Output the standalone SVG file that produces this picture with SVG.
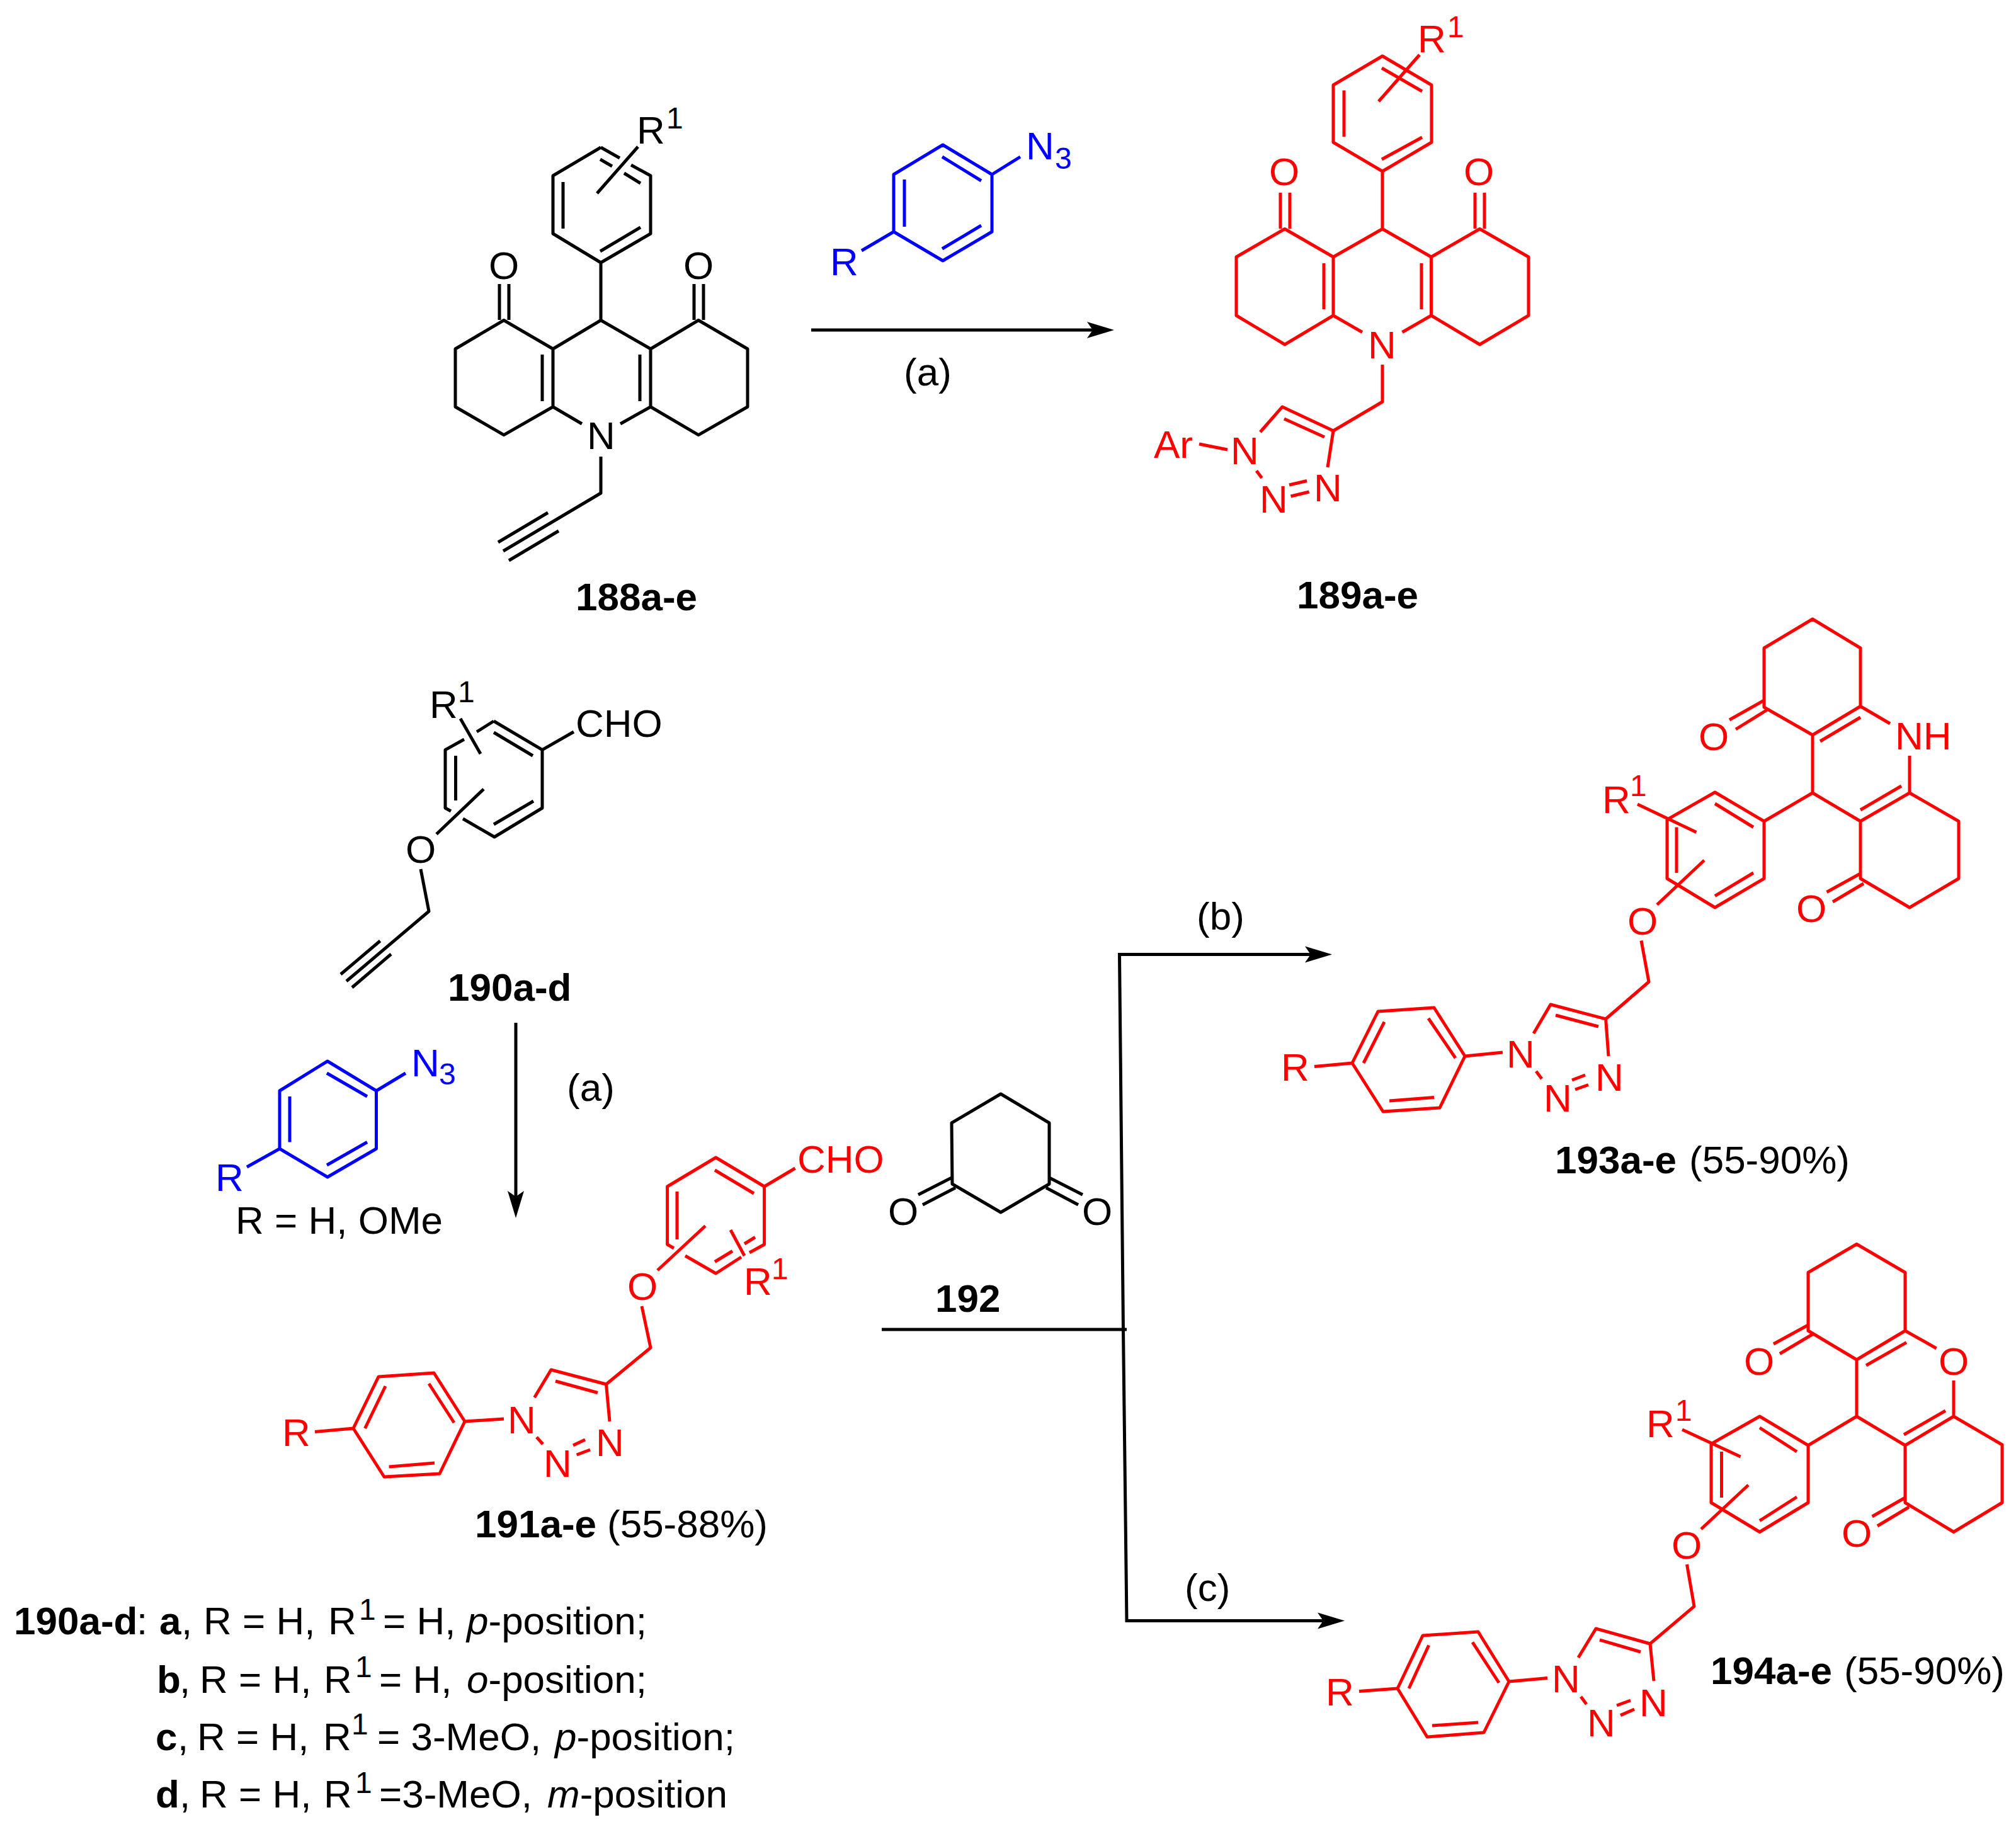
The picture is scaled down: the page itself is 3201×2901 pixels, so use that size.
<svg xmlns="http://www.w3.org/2000/svg" width="3201" height="2901" viewBox="0 0 3201 2901">
<defs>
<style>
text{font-family:"Liberation Sans",Arial,sans-serif;font-size:62px;fill:#000}
.sup{font-size:48px}
.b{font-weight:700}
.i{font-style:italic}
.bond{fill:none;stroke:#000;stroke-width:5;stroke-linejoin:round}
.red .bond{stroke:#f00}.red text{fill:#f00}
.blue .bond{stroke:#00f}.blue text{fill:#00f}
.line{fill:none;stroke:#000;stroke-width:5}
.arrow{marker-end:url(#head)}
</style>
<marker id="head" markerUnits="userSpaceOnUse" viewBox="0 -14 44 28" refX="9" refY="0" markerWidth="44" markerHeight="28" orient="auto" overflow="visible"><path d="M0,-13L43,0L0,13L9,0Z" fill="#000"/></marker>
</defs>
<rect width="3201" height="2901" fill="#fff"/>

<g id="connectors">
<path class="line arrow" d="M1288,524H1735"/>
<path class="line arrow" d="M819,1624V1900"/>
<path class="line" d="M1400,2111H1789"/>
<path class="line arrow" d="M1783.5,2111L1777.5,1515.5H2081"/>
<path class="line arrow" d="M1783.5,2111L1789,2573.5H2101"/>
</g>

<g id="cond-a1"><text x="1435" y="612">(a)</text></g>
<g id="cond-a2"><text x="900" y="1748">(a)</text></g>
<g id="cond-b"><text x="1900" y="1476">(b)</text></g>
<g id="cond-c"><text x="1881" y="2542">(c)</text></g>

<g id="mol-188">
<path class="bond" d="M1013,233L948,307M954,234L984,251M1002,262L1033,279V371L954,417L878,371V279L954,234M894,289V363M953,399L1017,361M953,253L972,264M991,275L1017,291M954,417V508.5L878,554V646L800,690.6L723,646V554L800,508.5L878,554M954,508.5L1033,554V646L1109,690.6L1187,646V554L1109,508.5L1033,554M861,563V637M1016,563V637M793,451V508M808,451V508M1102,451V508M1117,451V508M878,646L924,673M1033,646L985,673M954,725V783L799,875M870,814L791,861M887,843L808,890"/>
<text x="1011" y="228">R</text><text class="sup" x="1058" y="204">1</text>
<text x="776" y="443">O</text><text x="1085" y="443">O</text><text x="932" y="713">N</text>
</g>
<g id="label-188"><text class="b" x="914" y="969">188a-e</text></g>

<g id="mol-azide-top" class="blue">
<path class="bond" d="M1497,230L1575,277V368L1497,414L1419,368V277ZM1496,249L1558,287M1436,285V360M1496,395L1558,358M1575,277L1620,249M1419,368L1368,398"/>
<text x="1629" y="253">N</text><text class="sup" x="1675" y="268">3</text><text x="1318" y="437">R</text>
</g>

<g id="mol-189" class="red">
<path class="bond" d="M2254,87L2189,161M2195,89L2273,135V226L2195,272L2117,226V135ZM2134,143.5V217M2194,253L2258,218M2194,108L2258,145M2195,272V363.5L2117,408V501L2040,547L1963,501V408L2040,363.5L2117,408M2195,363.5L2272.5,408V501L2349.5,547L2427,501V408L2349.5,363.5L2272.5,408M2102,418V491M2257,418V491M2033,306V363M2048,306V363M2342,306V363M2357,306V363M2117,501L2163,527.5M2272.5,501L2226.5,527.5M2195,579V638L2117,684L2036,646L2001,686M2039,665L2103,694M2117,684L2108,742M1995,747.5L2003.6,759M2047,770L2075,763.5M2049.5,788L2078.6,781M1904,705L1949,714"/>
<text x="2251" y="83">R</text><text class="sup" x="2298" y="59">1</text>
<text x="2015" y="294">O</text><text x="2324" y="294">O</text><text x="2172" y="569">N</text>
<text x="1954" y="737">N</text><text x="2000" y="814">N</text><text x="2086" y="796">N</text><text x="1832" y="727">Ar</text>
</g>
<g id="label-189"><text class="b" x="2059" y="966">189a-e</text></g>

<g id="mol-190">
<path class="bond" d="M784,1145L757,1162M737,1174L707,1190.6V1283L716,1288M735,1300L785,1329L861,1283V1190.6L784,1145M784,1163L846,1200M723.5,1200V1271M784,1309L847,1272M731,1141L763,1197M693,1324.5L768,1253M861,1190.6L911,1162M668,1380L681,1447L550,1558M603.6,1494L541,1547M621,1515L559,1568"/>
<text x="682" y="1140">R</text><text class="sup" x="727" y="1115">1</text>
<text x="914" y="1170">CHO</text><text x="644" y="1370">O</text>
</g>
<g id="label-190"><text class="b" x="711" y="1589">190a-d</text></g>

<g id="mol-azide-left" class="blue">
<path class="bond" d="M520,1685L597.5,1732V1824L520,1869L444,1824V1732ZM519,1704L583,1741M460,1741V1813.5M519,1850L583,1813.5M597.5,1732L644,1704M444,1824L392,1853"/>
<text x="653" y="1709">N</text><text class="sup" x="697" y="1722">3</text><text x="342" y="1891">R</text>
</g>
<g id="label-rh"><text x="374" y="1959">R = H, OMe</text></g>

<g id="mol-191" class="red">
<path class="bond" d="M1070,1982L1059.6,1976V1884L1136.6,1838L1213.6,1884V1976L1190,1989M1177,1996L1136.6,2022L1088,1994M1135,1858L1197,1895M1075,1892V1968M1135,2003.5L1163,1986.5M1182,1975L1199,1964.5M1160,1953L1182,1994M1044,2017L1120,1946.5M1213.6,1884L1262.5,1855M1019,2074L1033,2140L962.5,2198L875,2175L848.6,2219M882,2193L949,2211.5M962.5,2198L968,2257M852,2282L862,2293M910,2295L929,2286M915.6,2310L937,2302M738,2257L800,2253M689,2180L601,2186L561,2268L610,2345L698,2340L738,2257ZM681,2197L721,2259M612,2201L579.5,2268M617.6,2329L690,2323M500,2273.5L561,2268"/>
<text x="1266" y="1862">CHO</text><text x="1181" y="2056">R</text><text class="sup" x="1225" y="2031">1</text>
<text x="996" y="2064">O</text><text x="806" y="2276">N</text><text x="863" y="2345">N</text><text x="946" y="2312">N</text><text x="448" y="2296">R</text>
</g>
<g id="label-191"><text x="754" y="2441"><tspan class="b">191a-e</tspan><tspan x="964">(55-88%)</tspan></text></g>

<g id="mol-192">
<path class="bond" d="M1589,1737L1511,1783L1512,1880L1589,1925L1666,1880V1783ZM1511,1870L1458,1897M1517,1886L1465,1913M1666,1870L1719,1897M1661,1886L1712,1913"/>
<text x="1410" y="1945">O</text><text x="1718" y="1945">O</text>
</g>
<g id="label-192"><text class="b" x="1485" y="2083">192</text></g>

<g id="mol-193" class="red">
<path class="bond" d="M2878,983L2801,1029V1123L2878,1167L2954,1121.5V1029ZM2801,1112L2746,1143M2806,1127L2756,1158M2890,1177L2954,1139M2878,1167V1259L2954,1304L3032,1259V1200M2954,1121.5L3001,1149M2954,1286L3019,1248M3032,1259L3110,1304V1395L3032,1441L2954,1395V1304M2954,1387L2900.5,1416.5M2959,1403L2910,1432M2878,1259L2801,1304M2723,1258L2801,1304V1395L2723,1441L2647,1395V1301.4ZM2723,1276L2784,1313.5M2662,1313.5V1386M2723,1422.6L2784,1386M2600,1277L2693.5,1321.5M2631,1436.5L2706,1366M2606,1493.5L2618,1559L2549.6,1618L2462,1595L2435,1641M2470,1612L2538,1630M2549.6,1618L2554,1677M2439,1701L2448,1713M2496,1715L2517,1707M2501,1730L2522,1722.5M2277,1600L2188,1606L2147,1688L2196,1765L2286,1759L2326,1677ZM2326,1677L2386,1671M2268,1617L2311,1680M2198,1622.6L2165,1688M2206,1748L2277,1742.5M2087,1693.5L2147,1688"/>
<text x="2697" y="1191">O</text><text x="3009" y="1190">NH</text><text x="2852" y="1464">O</text>
<text x="2544" y="1291">R</text><text class="sup" x="2588" y="1264">1</text><text x="2584" y="1484">O</text>
<text x="2392" y="1695">N</text><text x="2451" y="1765">N</text><text x="2533" y="1732">N</text><text x="2034" y="1716">R</text>
</g>
<g id="label-193"><text x="2469" y="1863"><tspan class="b">193a-e</tspan><tspan x="2682">(55-90%)</tspan></text></g>

<g id="mol-194" class="red">
<path class="bond" d="M2948,1975.5L2871,2020.5V2113L2948,2159L3025,2113V2020.5ZM2870,2104.5L2816,2134M2879,2118L2826,2149.5M2963,2168L3027,2131.6M2948,2159V2249L3025,2295L3102,2249V2192M3025,2113L3074.6,2141M3023,2278L3089,2240M3102,2249L3179,2294V2386L3102,2432.5L3025,2386V2295M3025,2378L2972.6,2408M3031,2393L2981,2423M2948,2249L2871,2295M2794,2249L2871,2295V2386L2794,2432.5L2717,2386V2292.6ZM2794,2267L2853,2305M2733.5,2305V2378M2794,2414.6L2853,2377M2671,2270L2763.6,2313M2701,2428L2776,2358M2678.5,2484L2690,2550.6L2620,2610L2534,2586L2506,2632M2540,2604L2605,2623M2620,2610L2626,2669M2510,2694L2519,2706M2567,2708L2589,2700M2573,2723.6L2595,2714M2347,2591L2259,2597L2219,2681L2266,2758L2356,2751L2396,2670ZM2396,2670L2457,2664.5M2338,2607.6L2380,2672M2268.6,2612.5L2237,2681M2274,2740L2347,2735M2158,2685.6L2219,2681"/>
<text x="2769" y="2183">O</text><text x="3078" y="2183">O</text><text x="2924" y="2456">O</text>
<text x="2614" y="2282">R</text><text class="sup" x="2660" y="2256">1</text><text x="2654" y="2475">O</text>
<text x="2464" y="2687">N</text><text x="2520" y="2757">N</text><text x="2603" y="2725">N</text><text x="2105" y="2708">R</text>
</g>
<g id="label-194"><text x="2716" y="2674"><tspan class="b">194a-e</tspan><tspan x="2928">(55-90%)</tspan></text></g>

<g id="legend">
<text y="2595"><tspan class="b" x="22">190a-d</tspan><tspan x="217">:</tspan><tspan class="b" x="253">a</tspan><tspan x="288">,</tspan><tspan x="323">R = H,</tspan><tspan x="521">R</tspan><tspan class="sup" x="570" y="2572">1</tspan><tspan x="608" y="2595">= H,</tspan><tspan class="i" x="741">p</tspan><tspan>-position;</tspan></text>
<text y="2688"><tspan class="b" x="249">b</tspan><tspan x="285">,</tspan><tspan x="317">R = H,</tspan><tspan x="514">R</tspan><tspan class="sup" x="564" y="2663">1</tspan><tspan x="602" y="2688">= H,</tspan><tspan class="i" x="741">o</tspan><tspan>-position;</tspan></text>
<text y="2779"><tspan class="b" x="247">c</tspan><tspan x="282">,</tspan><tspan x="313">R = H,</tspan><tspan x="513">R</tspan><tspan class="sup" x="558" y="2754">1</tspan><tspan x="599" y="2779">= 3-MeO,</tspan><tspan class="i" x="881">p</tspan><tspan>-position;</tspan></text>
<text y="2870"><tspan class="b" x="247">d</tspan><tspan x="285">,</tspan><tspan x="317">R = H,</tspan><tspan x="514">R</tspan><tspan class="sup" x="564" y="2847">1</tspan><tspan x="602" y="2870">=3-MeO,</tspan><tspan class="i" x="869">m</tspan><tspan>-position</tspan></text>
</g>
</svg>
